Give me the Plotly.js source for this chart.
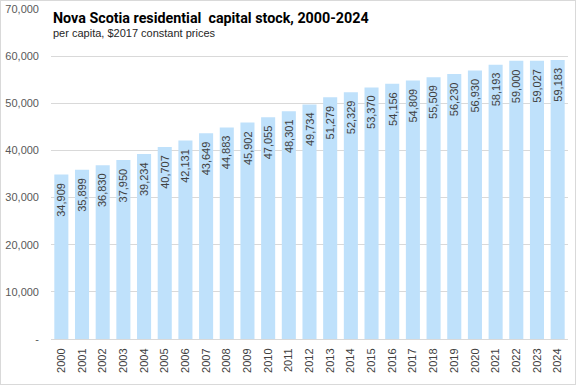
<!DOCTYPE html>
<html>
<head>
<meta charset="utf-8">
<script src="https://cdn.plot.ly/plotly-3.0.1.min.js"></script>
<style>
html,body{margin:0;padding:0;background:#fff;}
#wrap{position:absolute;left:0;top:0;width:576px;height:385px;box-sizing:border-box;border:1px solid #d9d9d9;}
#chart{width:574px;height:383px;}
</style>
</head>
<body>
<div id="wrap"><div id="chart"></div></div>
<script>
const years = ['2000','2001','2002','2003','2004','2005','2006','2007','2008','2009','2010','2011','2012','2013','2014','2015','2016','2017','2018','2019','2020','2021','2022','2023','2024'];
const stockPerCapita = [34909,35899,36830,37950,39234,40707,42131,43649,44883,45902,47055,48301,49734,51279,52329,53370,54156,54809,55509,56230,56930,58193,59000,59027,59183];
const yTickVals = [0,10000,20000,30000,40000,50000,60000,70000];
const yTickText = ['-','10,000','20,000','30,000','40,000','50,000','60,000','70,000'];

const fmt = v => v.toLocaleString('en-US');

const trace = {
  type: 'bar',
  x: years,
  y: stockPerCapita,
  marker: {color: '#BFE1FB'},
  hoverinfo: 'none'
};

const valueLabels = years.map((yr, i) => ({
  x: i, y: stockPerCapita[i], xref: 'x', yref: 'y',
  text: fmt(stockPerCapita[i]),
  textangle: -90,
  xanchor: 'center', yanchor: 'top',
  yshift: -6,
  showarrow: false,
  font: {family: 'Liberation Sans, Arial, sans-serif', size: 11, color: '#404040'}
}));

const layout = {
  width: 574, height: 383,
  margin: {l: 50, r: 7, t: 8, b: 45, pad: 0},
  paper_bgcolor: '#ffffff',
  plot_bgcolor: '#ffffff',
  bargap: 0.32,
  showlegend: false,
  xaxis: {
    type: 'category',
    range: [-0.5, years.length - 0.5],
    tickangle: -90,
    tickfont: {family: 'Liberation Sans, Arial, sans-serif', size: 11, color: '#404040'},
    showgrid: false,
    showline: true,
    linecolor: '#d9d9d9',
    linewidth: 1,
    ticks: '',
    ticklabelstandoff: 4
  },
  yaxis: {
    range: [0, 70000],
    tickvals: yTickVals,
    ticktext: yTickText,
    tickfont: {family: 'Liberation Sans, Arial, sans-serif', size: 11, color: '#595959'},
    gridcolor: '#d9d9d9',
    gridwidth: 1,
    zeroline: false,
    showline: false,
    ticks: '',
    ticklabelstandoff: 11
  },
  annotations: [
    {
      text: '<b>Nova Scotia residential\u00a0 capital stock, 2000-2024</b>',
      xref: 'paper', yref: 'paper', x: 0, y: (339 - 18) / 330,
      xanchor: 'left', yanchor: 'middle', showarrow: false,
      font: {family: 'Liberation Sans Narrow, Roboto, sans-serif', size: 14.3, color: '#000000'}
    },
    {
      text: 'per capita, $2017 constant prices',
      xref: 'paper', yref: 'paper', x: 0, y: (339 - 33) / 330,
      xanchor: 'left', yanchor: 'middle', showarrow: false,
      font: {family: 'Liberation Sans, Arial, sans-serif', size: 11, color: '#262626'}
    }
  ].concat(valueLabels)
};

Plotly.newPlot('chart', [trace], layout, {displayModeBar: false, staticPlot: true});
</script>
</body>
</html>
